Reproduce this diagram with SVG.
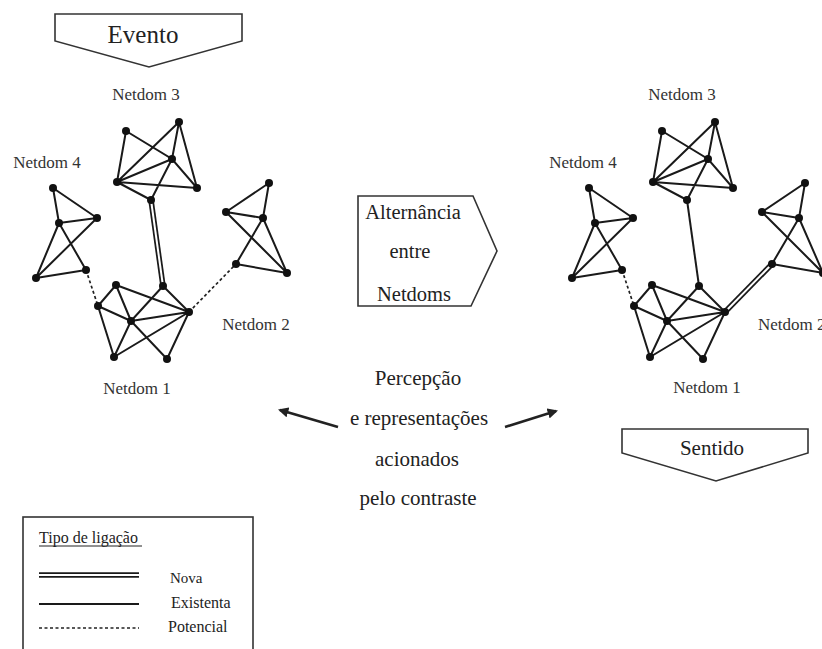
<svg xmlns="http://www.w3.org/2000/svg" xmlns:xlink="http://www.w3.org/1999/xlink" width="822" height="649" viewBox="0 0 822 649">
  <style>
    text { font-family: 'Liberation Serif', 'DejaVu Serif', 'Times New Roman', serif; fill: #222; }
    .lbl { font-size: 17px; fill: #333; text-anchor: middle; }
    .lbl-start { font-size: 17px; fill: #333; text-anchor: start; }
    .big { font-size: 21px; text-anchor: middle; }
    .leg { font-size: 16px; }
    .edge { stroke: #1a1a1a; stroke-width: 2; fill: none; stroke-linecap: round; }
    .dot { fill: #111; }
    .shape { fill: #fff; stroke: #333; stroke-width: 1.6; stroke-linejoin: miter; }
    .dbl-out { stroke: #1a1a1a; stroke-width: 5.5; fill: none; }
    .dbl-in { stroke: #fff; stroke-width: 2; fill: none; }
    .single { stroke: #1a1a1a; stroke-width: 2; fill: none; }
    .dash { stroke: #222; stroke-width: 1.7; fill: none; stroke-dasharray: 3 2.5; }
    .arrow { stroke: #222; stroke-width: 2.6; fill: none; marker-end: url(#head); }
  </style>
  <defs>
    <marker id="head" viewBox="0 0 10 10" refX="8" refY="5" markerWidth="4" markerHeight="4" orient="auto" markerUnits="strokeWidth">
      <path d="M0,0 L10,5 L0,10 Z" fill="#222"/>
    </marker>
    <!-- Netdom 3 cluster -->
    <g id="c3">
      <path class="edge" d="M126,131 L117,182 M126,131 L172,159 L197,188 M179,122 L117,182 M179,122 L172,159 M179,122 L197,188 M117,182 L172,159 M117,182 L197,188 M117,182 L151,200 M172,159 L151,200"/>
      <circle class="dot" cx="126" cy="131" r="4"/>
      <circle class="dot" cx="179" cy="122" r="4"/>
      <circle class="dot" cx="172" cy="159" r="4"/>
      <circle class="dot" cx="117" cy="182" r="4"/>
      <circle class="dot" cx="197" cy="188" r="4"/>
      <circle class="dot" cx="151" cy="200" r="4"/>
    </g>
    <!-- Netdom 4 cluster -->
    <g id="c4">
      <path class="edge" d="M53,188 L59,223 M53,188 L97,218 M59,223 L97,218 M59,223 L36,278 M59,223 L86,270 M97,218 L36,278 M36,278 L86,270"/>
      <circle class="dot" cx="53" cy="188" r="4"/>
      <circle class="dot" cx="59" cy="223" r="4"/>
      <circle class="dot" cx="97" cy="218" r="4"/>
      <circle class="dot" cx="36" cy="278" r="4"/>
      <circle class="dot" cx="86" cy="270" r="4"/>
    </g>
    <!-- Netdom 1 cluster -->
    <g id="c1">
      <path class="edge" d="M98,306 L116,285 M98,306 L131,321 M98,306 L114,357 M116,285 L131,321 M116,285 L189,312 M163,286 L131,321 M163,286 L189,312 M131,321 L189,312 M131,321 L114,357 M131,321 L167,359 M114,357 L189,312 M189,312 L167,359"/>
      <circle class="dot" cx="98" cy="306" r="4"/>
      <circle class="dot" cx="116" cy="285" r="4"/>
      <circle class="dot" cx="163" cy="286" r="4"/>
      <circle class="dot" cx="131" cy="321" r="4"/>
      <circle class="dot" cx="189" cy="312" r="4"/>
      <circle class="dot" cx="114" cy="357" r="4"/>
      <circle class="dot" cx="167" cy="359" r="4"/>
    </g>
    <!-- Netdom 2 cluster -->
    <g id="c2">
      <path class="edge" d="M269,183 L226,212 M269,183 L263,218 M226,212 L263,218 M226,212 L287,273 M263,218 L236,264 M263,218 L287,273 M236,264 L287,273"/>
      <circle class="dot" cx="269" cy="183" r="4"/>
      <circle class="dot" cx="226" cy="212" r="4"/>
      <circle class="dot" cx="263" cy="218" r="4"/>
      <circle class="dot" cx="236" cy="264" r="4"/>
      <circle class="dot" cx="287" cy="273" r="4"/>
    </g>
  </defs>

  <rect width="822" height="649" fill="#fff"/>

  <!-- links between netdoms and the two perception arrows -->
  <g id="connectors">
    <!-- left state -->
    <path class="dash" d="M86,270 L98,306"/>
    <path class="dbl-out" d="M151,200 L163,286"/>
    <path class="dbl-in" d="M151,200 L163,286"/>
    <path class="dash" d="M189,312 L236,264"/>
    <!-- right state -->
    <path class="dash" d="M622,270 L634,306"/>
    <path class="single" d="M687,200 L699,286"/>
    <path class="dbl-out" d="M725,312 L772,264"/>
    <path class="dbl-in" d="M725,312 L772,264"/>
    <!-- arrows -->
    <path class="arrow" d="M338,427 L280,410"/>
    <path class="arrow" d="M505,427 L556,411"/>
  </g>

  <!-- event banner -->
  <g id="evento">
    <path class="shape" d="M55,14 L242,14 L242,41 L149,67 L55,41 Z"/>
    <text x="143" y="43" font-size="25" text-anchor="middle">Evento</text>
  </g>

  <!-- left network -->
  <g id="left-netdom3">
    <use xlink:href="#c3"/>
    <text class="lbl" x="146" y="100">Netdom 3</text>
  </g>
  <g id="left-netdom4">
    <use xlink:href="#c4"/>
    <text class="lbl" x="47" y="168">Netdom 4</text>
  </g>
  <g id="left-netdom1">
    <use xlink:href="#c1"/>
    <text class="lbl" x="137" y="394">Netdom 1</text>
  </g>
  <g id="left-netdom2">
    <use xlink:href="#c2"/>
    <text class="lbl" x="256" y="330">Netdom 2</text>
  </g>

  <!-- alternation box -->
  <g id="alternancia">
    <path class="shape" d="M358,196 L473,196 L497,251 L471,306 L358,306 Z"/>
    <text class="big" x="413" y="219" style="font-size:20.5px">Alternância</text>
    <text class="big" x="410" y="258" style="font-size:20.5px">entre</text>
    <text class="big" x="414" y="301" style="font-size:20.5px">Netdoms</text>
  </g>

  <!-- right network -->
  <g id="right-netdom3">
    <use xlink:href="#c3" transform="translate(536,0)"/>
    <text class="lbl" x="682" y="100">Netdom 3</text>
  </g>
  <g id="right-netdom4">
    <use xlink:href="#c4" transform="translate(536,0)"/>
    <text class="lbl" x="583" y="168">Netdom 4</text>
  </g>
  <g id="right-netdom1">
    <use xlink:href="#c1" transform="translate(536,0)"/>
    <text class="lbl" x="707" y="393">Netdom 1</text>
  </g>
  <g id="right-netdom2">
    <use xlink:href="#c2" transform="translate(536,0)"/>
    <text class="lbl-start" x="758" y="330">Netdom 2</text>
  </g>

  <!-- perception caption -->
  <g id="percepcao">
    <text class="big" x="418" y="385">Percepção</text>
    <text class="big" x="419" y="425">e representações</text>
    <text class="big" x="417" y="466">acionados</text>
    <text class="big" x="418" y="505">pelo contraste</text>
  </g>

  <!-- meaning banner -->
  <g id="sentido">
    <path class="shape" d="M622,429 L808,429 L808,453 L716,481 L622,453 Z"/>
    <text x="712" y="455" font-size="21" text-anchor="middle">Sentido</text>
  </g>

  <!-- legend -->
  <g id="legenda">
    <rect x="23" y="517" width="230" height="150" fill="#fff" stroke="#333" stroke-width="1.6"/>
    <text class="leg" x="39" y="543">Tipo de ligação</text>
    <line x1="39" y1="546" x2="142" y2="546" stroke="#222" stroke-width="1"/>
    <line class="dbl-out" x1="39" y1="575" x2="139" y2="575"/>
    <line class="dbl-in" x1="39" y1="575" x2="139" y2="575" style="stroke-width:1.8px"/>
    <text class="leg" x="170" y="583" style="font-size:15px">Nova</text>
    <line class="single" x1="39" y1="604" x2="139" y2="604"/>
    <text class="leg" x="171" y="608">Existenta</text>
    <line class="dash" x1="39" y1="628" x2="139" y2="628" style="stroke-width:1.3px"/>
    <text class="leg" x="168" y="632">Potencial</text>
  </g>
</svg>
